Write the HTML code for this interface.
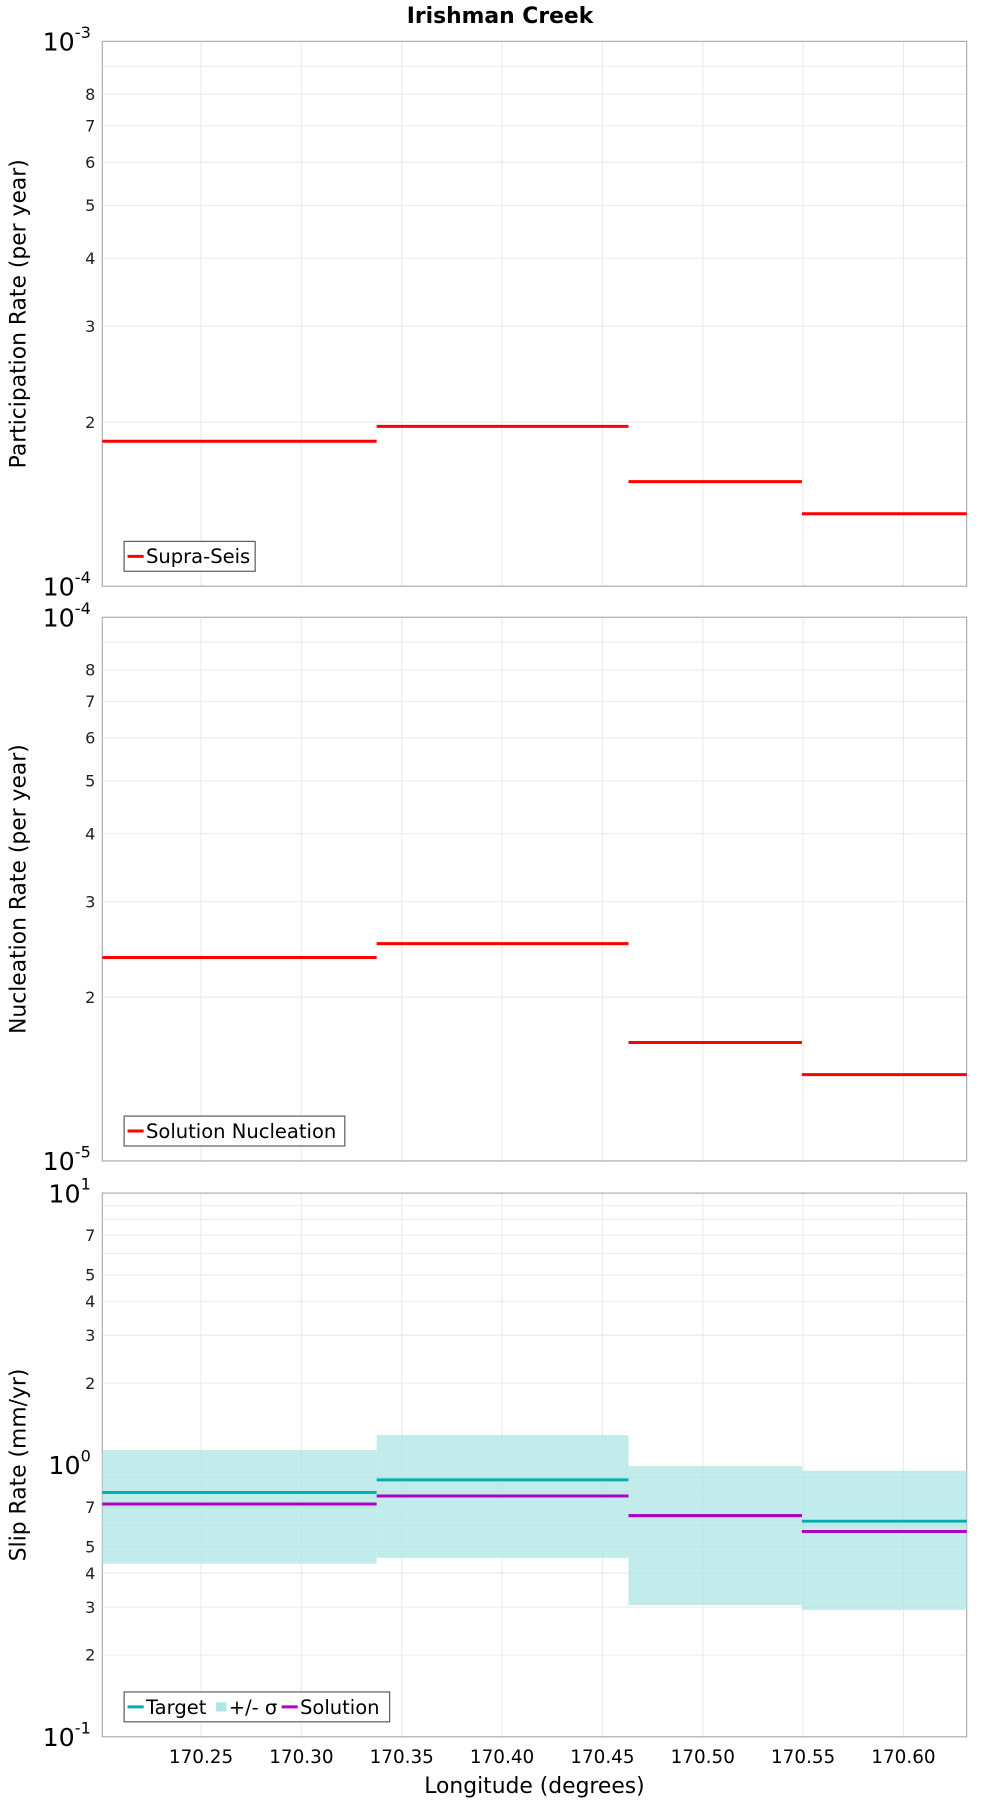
<!DOCTYPE html>
<html><head><meta charset="utf-8"><style>
html,body{margin:0;padding:0;background:#fff;}
svg{display:block;font-family:"DejaVu Sans","Liberation Sans",sans-serif;}
</style></head><body>
<svg id="chart" width="1000" height="1800" viewBox="0 0 870 1566" preserveAspectRatio="none" xmlns="http://www.w3.org/2000/svg">
<text x="435" y="20" text-anchor="middle" font-size="19" font-weight="bold">Irishman Creek</text>
<text x="465" y="1560" text-anchor="middle" font-size="19">Longitude (degrees)</text>
</svg>
<script>
const xTicks = [170.25,170.30,170.35,170.40,170.45,170.50,170.55,170.60];
const xTickLabels = ["170.25","170.30","170.35","170.40","170.45","170.50","170.55","170.60"];
const segStarts = [170.2008,170.3375,170.4630,170.5494];
const segEnds = [170.3375,170.4630,170.5494,170.6315];
const participation = [1.845e-4,1.965e-4,1.556e-4,1.358e-4];
const nucleation = [2.367e-5,2.51e-5,1.651e-5,1.441e-5];
const slipTarget = [0.792,0.881,0.651,0.621];
const slipSolution = [0.718,0.769,0.651,0.569];
const slipUpper = [1.135,1.288,0.99,0.952];
const slipLower = [0.433,0.455,0.305,0.293];

const svg = document.getElementById('chart');
const NS = 'http://www.w3.org/2000/svg';
const L = 89, R = 841, xMin = 170.2008, xMax = 170.6315;
const xs = v => L + (v - xMin) / (xMax - xMin) * (R - L);
function mk(tag, attrs, parent){const e=document.createElementNS(NS,tag);for(const k in attrs)e.setAttribute(k,attrs[k]);(parent||svg).appendChild(e);return e;}

function panel(name, top, bottom, dMin, dMax, minorLabels, yTitle){
  const g = mk('g',{});
  
  
  const ys = v => bottom - (Math.log10(v) - dMin) / (dMax - dMin) * (bottom - top);
  for (let d = dMin; d < dMax; d++) {
    for (let m = 2; m <= 9; m++) {
      const y = ys(m * Math.pow(10, d));
      const gl = mk('line',{x1:L,x2:R,y1:y,y2:y,stroke:'#ebebeb','stroke-width':1},g);
      
      
      if (minorLabels.includes(m)) {
        const t = mk('text',{x:L-6,y:y+5,'text-anchor':'end','font-size':14,fill:'#222'},g);
        
        
        t.textContent = m;
      }
    }
  }
  xTicks.forEach(v => {
    const gl = mk('line',{x1:xs(v),x2:xs(v),y1:top,y2:bottom,stroke:'#ebebeb','stroke-width':1},g);
    
    
  });
  for (let d = dMin; d <= dMax; d++) {
    const t = mk('text',{x:L-10,y:ys(Math.pow(10,d))+8,'text-anchor':'end','font-size':22},g);
    
    
    t.innerHTML = '10<tspan dy="-11" font-size="14">' + d + '</tspan>';
  }
  const fr = mk('rect',{x:L,y:top,width:R-L,height:bottom-top,fill:'none',stroke:'#aaa','stroke-width':1},g);
  
  
  const tt = mk('text',{transform:`translate(22,${(top+bottom)/2}) rotate(-90)`,'text-anchor':'middle','font-size':19},g);
  
  
  tt.textContent = yTitle;
  return {g, ys, top, bottom};
}

function segs(p, vals, color, name){
  vals.forEach((v,i) => {
    const l = mk('line',{x1:xs(segStarts[i]),x2:xs(segEnds[i]),y1:p.ys(v),y2:p.ys(v),stroke:color,'stroke-width':2.6},p.g);
    
    
  });
}
function legend(p, x, w, items){
  const y = p.bottom - 39;
  const lg = mk('g',{},p.g);
  
  
  mk('rect',{x:x,y:y,width:w,height:26,fill:'#fff',stroke:'#555','stroke-width':1},lg);
  let cx = x + 3;
  items.forEach(it => {
    if (it.band) mk('rect',{x:cx,y:y+9,width:9,height:8,fill:'#aee6e4'},lg);
    else mk('line',{x1:cx,x2:cx+14,y1:y+13,y2:y+13,stroke:it.color,'stroke-width':2.6},lg);
    const t = mk('text',{x:cx+(it.band?11:16),y:y+19,'font-size':17},lg);
    
    
    t.textContent = it.label;
    cx += it.w;
  });
}

const p1 = panel('participation-panel', 36, 510, -4, -3, [2,3,4,5,6,7,8], 'Participation Rate (per year)');
segs(p1, participation, '#ff0000', 'supra-seis');
legend(p1, 108, 114, [{color:'#ff0000',label:'Supra-Seis',w:110}]);

const p2 = panel('nucleation-panel', 537, 1010, -5, -4, [2,3,4,5,6,7,8], 'Nucleation Rate (per year)');
segs(p2, nucleation, '#ff0000', 'solution-nucleation');
legend(p2, 108, 192, [{color:'#ff0000',label:'Solution Nucleation',w:190}]);

const p3 = panel('slip-rate-panel', 1038, 1511, -1, 1, [2,3,4,5,7], 'Slip Rate (mm/yr)');
slipUpper.forEach((u,i) => {
  const r = mk('rect',{x:xs(segStarts[i]),y:p3.ys(u),width:xs(segEnds[i])-xs(segStarts[i]),height:p3.ys(slipLower[i])-p3.ys(u),fill:'#aee6e4','fill-opacity':0.75},p3.g);
  
  
});
segs(p3, slipTarget, '#00b0b0', 'target');
segs(p3, slipSolution, '#b000c0', 'solution');
legend(p3, 108, 231, [{color:'#00b0b0',label:'Target',w:77},{band:true,label:'+/- σ',w:57},{color:'#b000c0',label:'Solution',w:100}]);

xTicks.forEach((v,i) => {
  const t = mk('text',{x:xs(v),y:1534,'text-anchor':'middle','font-size':16});
  
  
  t.textContent = xTickLabels[i];
});
</script>
</body></html>
